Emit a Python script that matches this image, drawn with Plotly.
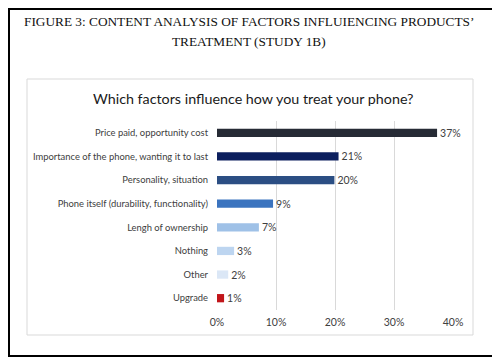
import plotly.graph_objects as go

categories = ["Price paid, opportunity cost",
              "Importance of the phone, wanting it to last",
              "Personality, situation",
              "Phone itself (durability, functionality)",
              "Lengh of ownership",
              "Nothing",
              "Other",
              "Upgrade"]
values = [37.3, 20.6, 19.9, 9.5, 7.1, 2.9, 1.9, 1.2]
value_labels = ["37%", "21%", "20%", "9%", "7%", "3%", "2%", "1%"]
colors = ["#262b35", "#0c1f5e", "#2b4e83", "#3b74bf", "#9fc1e7", "#bdd5f0", "#dbe7f6", "#c1151a"]
tick_vals = [0, 10, 20, 30, 40]
tick_text = ["0%", "10%", "20%", "30%", "40%"]

# the page body adds an 8px offset; work in page coordinates and shift
OFF = 8
W, H = 500 - OFF, 357 - OFF
L, R, T, B = 217 - OFF, 453 - OFF, 121 - OFF, 310 - OFF

def px(x):
    return (x - OFF - L) / (R - L)

def py(y):
    return (B - (y - OFF)) / (B - T)

FONT = "Lato, Open Sans, sans-serif"

fig = go.Figure(go.Bar(
    x=values, y=categories, orientation="h",
    marker=dict(color=colors, line=dict(width=0)),
    text=value_labels, textposition="outside", constraintext="none",
    textfont=dict(family=FONT, size=10.5, color="#404040"),
    cliponaxis=False, width=0.35,
))

fig.update_layout(
    width=W, height=H,
    margin=dict(l=L, r=W - R, t=T, b=H - B),
    paper_bgcolor="white", plot_bgcolor="white",
    showlegend=False,
    xaxis=dict(range=[0, 40], tickvals=tick_vals, ticktext=tick_text,
               showgrid=True, gridcolor="#d9d9d9", gridwidth=1,
               zeroline=False, showline=False, ticks="", automargin=False,
               ticklabelstandoff=4,
               tickfont=dict(family=FONT, size=10.5, color="#404040"),
               fixedrange=True),
    yaxis=dict(autorange="reversed", showgrid=False, zeroline=False,
               showline=False, ticks="", ticklabelstandoff=8, automargin=False,
               tickfont=dict(family=FONT, size=9.4, color="#404040")),
    shapes=[
        dict(type="rect", xref="paper", yref="paper",
             x0=px(27), x1=px(473), y0=py(335), y1=py(79),
             line=dict(color="#d9d9d9", width=1), layer="below"),
        dict(type="rect", xref="paper", yref="paper",
             x0=px(OFF + 1), x1=px(499), y0=py(356), y1=py(OFF + 1),
             line=dict(color="black", width=2)),
    ],
    annotations=[
        dict(text="FIGURE 3: CONTENT ANALYSIS OF FACTORS INFLUIENCING PRODUCTS’",
             xref="paper", yref="paper", x=px(249), y=py(21), showarrow=False,
             xanchor="center", yanchor="middle",
             font=dict(family="Liberation Serif, Times New Roman, serif", size=13.3, color="#111111")),
        dict(text="TREATMENT (STUDY 1B)",
             xref="paper", yref="paper", x=px(249), y=py(41), showarrow=False,
             xanchor="center", yanchor="middle",
             font=dict(family="Liberation Serif, Times New Roman, serif", size=13.3, color="#111111")),
        dict(text="Which factors influence how you treat your phone?",
             xref="paper", yref="paper", x=px(253), y=py(98), showarrow=False,
             xanchor="center", yanchor="middle",
             font=dict(family=FONT, size=14.3, color="#1a1a1a")),
    ],
)

fig.write_html("out.html")
